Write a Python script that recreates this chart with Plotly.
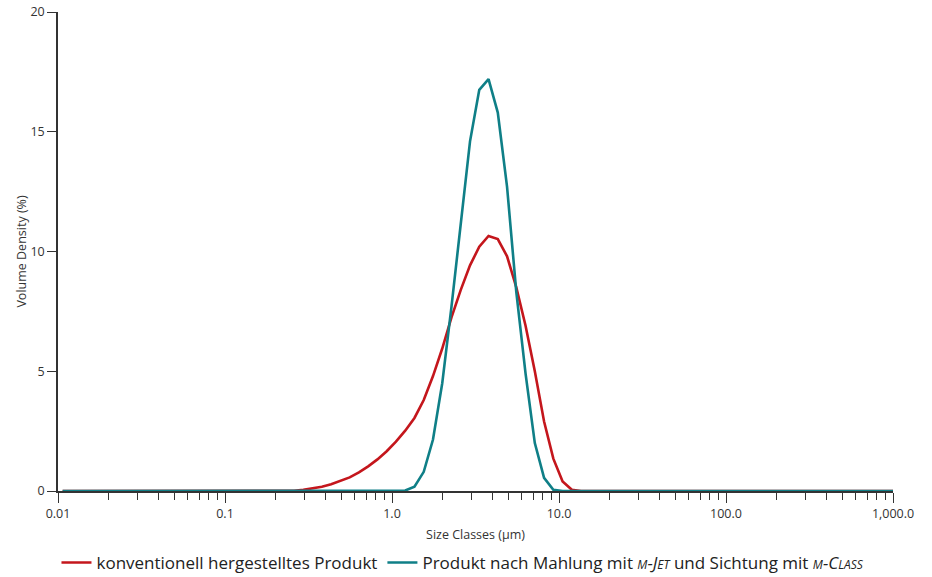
import plotly.graph_objects as go

# Size classes (µm), geometric class midpoints
size_classes = [
    0.01066, 0.01211, 0.01376, 0.01563, 0.01776, 0.02018, 0.02293, 0.02605, 0.02960, 0.03363,
    0.03821, 0.04341, 0.04932, 0.05604, 0.06367, 0.07234, 0.08219, 0.09338, 0.1061, 0.1205,
    0.1370, 0.1556, 0.1768, 0.2009, 0.2282, 0.2593, 0.2946, 0.3347, 0.3803, 0.4321,
    0.4909, 0.5578, 0.6337, 0.7200, 0.8180, 0.9294, 1.056, 1.200, 1.363, 1.549,
    1.760, 1.999, 2.271, 2.581, 2.932, 3.331, 3.785, 4.300, 4.886, 5.551,
    6.306, 7.165, 8.141, 9.249, 10.51, 11.94, 13.56, 15.41, 17.51, 19.89,
    22.60, 25.68, 29.17, 33.14, 37.66, 42.78, 48.61, 55.23, 62.75, 71.29,
    81.00, 92.03, 104.6, 118.8, 135.0, 153.3, 174.2, 197.9, 224.9, 255.5,
    290.3, 329.8, 374.7, 425.8, 483.7, 549.6, 624.4, 709.4, 806.0, 915.8,
    1040.0,
]

# Volume density (%) - conventional product
conventional = [
    0, 0, 0, 0, 0, 0, 0, 0, 0, 0,
    0, 0, 0, 0, 0, 0, 0, 0, 0, 0,
    0, 0, 0, 0, 0, 0.01, 0.05, 0.1, 0.18, 0.28,
    0.41, 0.57, 0.78, 1.03, 1.32, 1.66, 2.06, 2.52, 3.05, 3.8,
    4.8, 5.95, 7.25, 8.4, 9.42, 10.2, 10.65, 10.52, 9.8, 8.5,
    6.9, 5.0, 2.9, 1.35, 0.4, 0.05, 0, 0, 0, 0,
    0, 0, 0, 0, 0, 0, 0, 0, 0, 0,
    0, 0, 0, 0, 0, 0, 0, 0, 0, 0,
    0, 0, 0, 0, 0, 0, 0, 0, 0, 0,
    0,
]

# Volume density (%) - product after m-Jet milling and m-Class classification
mjet = [
    0, 0, 0, 0, 0, 0, 0, 0, 0, 0,
    0, 0, 0, 0, 0, 0, 0, 0, 0, 0,
    0, 0, 0, 0, 0, 0, 0, 0, 0, 0,
    0, 0, 0, 0, 0, 0, 0, 0.02, 0.18, 0.8,
    2.15, 4.5, 7.7, 11.2, 14.6, 16.75, 17.2, 15.8, 12.7, 8.3,
    4.9, 2.0, 0.55, 0.05, 0, 0, 0, 0, 0, 0,
    0, 0, 0, 0, 0, 0, 0, 0, 0, 0,
    0, 0, 0, 0, 0, 0, 0, 0, 0, 0,
    0, 0, 0, 0, 0, 0, 0, 0, 0, 0,
    0,
]

x_tickvals = [0.01, 0.1, 1, 10, 100, 1000]
x_ticktext = ["0.01", "0.1", "1.0", "10.0", "100.0", "1,000.0"]
minor_vals = [m * d for d in [0.01, 0.1, 1, 10, 100] for m in range(2, 10)]
y_tickvals = [0, 5, 10, 15, 20]

sc = "font-size:12px"
name_red = "konventionell hergestelltes Produkt"
name_teal = ("Produkt nach Mahlung mit <i><span style='%s'>M</span>-J<span style='%s'>ET</span></i> "
             "und Sichtung mit <i><span style='%s'>M</span>-C<span style='%s'>LASS</span></i>") % (sc, sc, sc, sc)

RED = "#c4161c"
TEAL = "#0f7f87"
AXIS = "#333333"

fig = go.Figure()
fig.add_trace(go.Scatter(x=size_classes, y=conventional, mode="lines", name=name_red,
                         line=dict(color=RED, width=2.6)))
fig.add_trace(go.Scatter(x=size_classes, y=mjet, mode="lines", name=name_teal,
                         line=dict(color=TEAL, width=2.6)))

fig.update_layout(
    width=932, height=577,
    margin=dict(l=58, r=39, t=12, b=86),
    paper_bgcolor="white", plot_bgcolor="white",
    font=dict(family="Open Sans", color="#333333", size=12),
    showlegend=True,
    legend=dict(orientation="h", x=0.485, xanchor="center",
                yref="container", y=(577 - 563) / 577, yanchor="middle",
                font=dict(size=17, color="#222222"), itemwidth=30, tracegroupgap=0),
)
fig.update_xaxes(
    type="log", range=[-2, 3], automargin=False,
    tickvals=x_tickvals, ticktext=x_ticktext,
    ticks="outside", ticklen=10, tickwidth=1.2, tickcolor=AXIS,
    minor=dict(tickvals=minor_vals, ticks="outside", ticklen=7, tickwidth=1.2, tickcolor=AXIS, showgrid=False),
    showline=True, linecolor=AXIS, linewidth=1.5,
    showgrid=False, zeroline=False,
    tickfont=dict(size=12.5, color="#333333"),
    title=dict(text="Size Classes (µm)", font=dict(size=12.5, color="#333333"), standoff=9),
)
fig.update_yaxes(
    range=[0, 20], tickvals=y_tickvals, automargin=False,
    ticks="outside", ticklen=9, tickwidth=1.2, tickcolor=AXIS,
    showline=True, linecolor=AXIS, linewidth=1.5,
    showgrid=False, zeroline=False,
    tickfont=dict(size=12.5, color="#333333"),
    title=dict(text="Volume Density (%)", font=dict(size=12.5, color="#333333"), standoff=1),
)

fig.write_html("out.html", config={"displayModeBar": False},
               post_script="document.body.style.margin='0';")
